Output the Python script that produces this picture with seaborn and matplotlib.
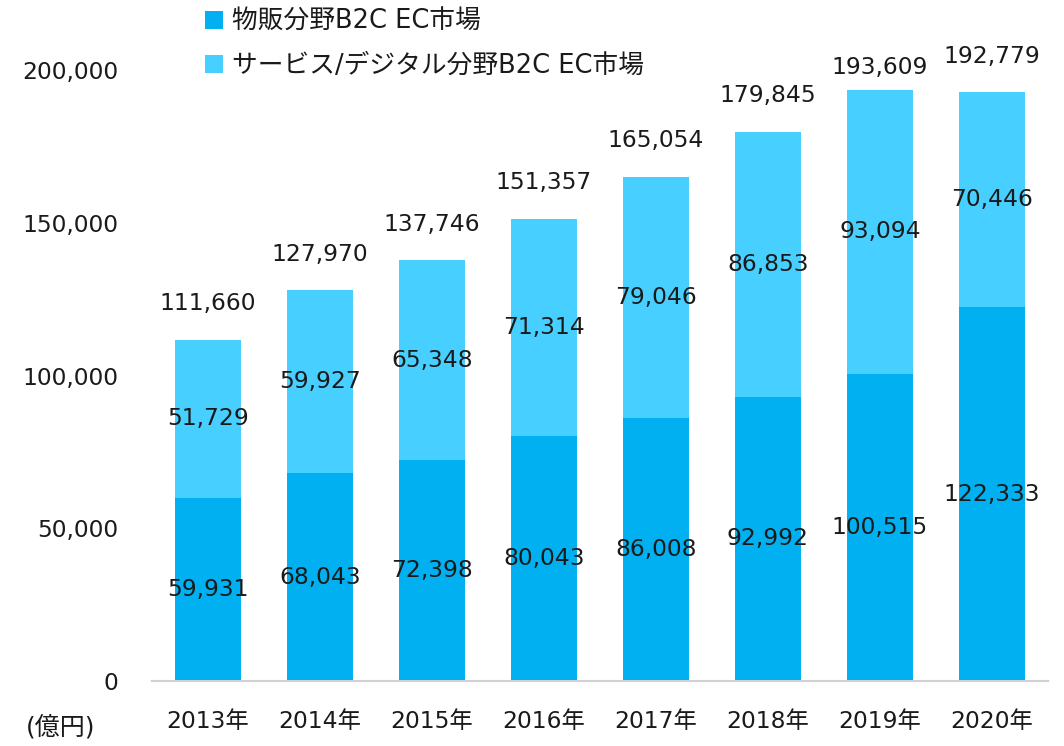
import matplotlib
matplotlib.use("Agg")
import matplotlib.pyplot as plt
from matplotlib.patches import Patch
import seaborn as sns
import pandas as pd
import numpy as np

# EC market size in Japan (100 million yen)
years = ["2013年", "2014年", "2015年", "2016年", "2017年", "2018年", "2019年", "2020年"]
goods = [59931, 68043, 72398, 80043, 86008, 92992, 100515, 122333]
services = [51729, 59927, 65348, 71314, 79046, 86853, 93094, 70446]
totals = [g + s for g, s in zip(goods, services)]
goods_label = "物販分野B2C EC市場"
services_label = "サービス/デジタル分野B2C EC市場"
yticks = [0, 50000, 100000, 150000, 200000]
unit_label = "(億円)"

sns.set_theme(style="white")
plt.rcParams["font.family"] = ["DejaVu Sans", "Noto Sans CJK JP"]

dark = "#00B0F0"
light = "#47CFFF"
text_color = "#1a1a1a"
fs = 16.8

df = pd.DataFrame({"year": years, "goods": goods, "services": services, "total": totals})

fig = plt.figure(figsize=(10.64, 7.46), dpi=100)
ax = fig.add_axes([152 / 1064, 1 - 681 / 746, 896 / 1064, 611 / 746])

# stacked bars: full height in the light colour, goods part drawn over it
sns.barplot(data=df, x="year", y="total", color=light, width=0.59, saturation=1,
            ax=ax, edgecolor="none")
sns.barplot(data=df, x="year", y="goods", color=dark, width=0.59, saturation=1,
            ax=ax, edgecolor="none")

ax.set_ylim(0, 200000)
ax.set_xlim(-0.5, len(years) - 0.5)
ax.set_yticks(yticks)
ax.set_yticklabels([f"{v:,}" for v in yticks], fontsize=fs, color=text_color)
ax.tick_params(axis="y", pad=24, length=0)
ax.tick_params(axis="x", pad=21, length=0, labelsize=fs, labelcolor=text_color)
ax.set_xlabel("")
ax.set_ylabel("")
for side in ["top", "left", "right"]:
    ax.spines[side].set_visible(False)
ax.spines["bottom"].set_color("#d0d0d0")
ax.spines["bottom"].set_linewidth(1.5)

# total labels sit above each bar; the 2019 one is pulled down a little
total_gap = 11800
total_nudge = {6: -4700}

x = np.arange(len(years))
for i in x:
    g, s, t = goods[i], services[i], totals[i]
    ax.text(i, g / 2, f"{g:,}", ha="center", va="center", fontsize=fs, color=text_color)
    ax.text(i, g + s / 2, f"{s:,}", ha="center", va="center", fontsize=fs, color=text_color)
    ax.text(i, t + total_gap + total_nudge.get(i, 0), f"{t:,}", ha="center",
            va="center", fontsize=fs, color=text_color, clip_on=False)

fig.text(61 / 1064, 1 - 727 / 746, unit_label, ha="center", va="center",
         fontsize=18, color=text_color)

handles = [Patch(facecolor=dark, edgecolor="none"), Patch(facecolor=light, edgecolor="none")]
fig.legend(handles, [goods_label, services_label], loc="upper left",
           bbox_to_anchor=(205 / 1064, 1 - 9 / 746), frameon=False, fontsize=18.5,
           borderpad=0, borderaxespad=0,
           handlelength=0.7, handleheight=0.7, handletextpad=0.35,
           labelspacing=0.7, labelcolor=text_color)

fig.savefig("out.png", dpi=100)
